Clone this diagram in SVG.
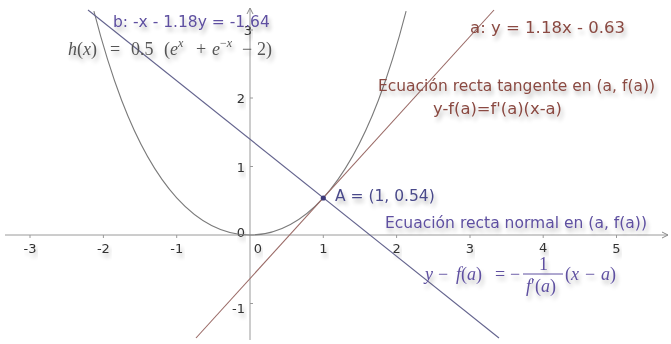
<svg xmlns="http://www.w3.org/2000/svg" width="671" height="344" viewBox="0 0 671 344">
<defs>
<filter id="sh" x="-10%" y="-30%" width="120%" height="180%">
<feGaussianBlur in="SourceAlpha" stdDeviation="2.2"/>
<feOffset dx="2" dy="4" result="b"/>
<feComponentTransfer><feFuncA type="linear" slope="0.28"/></feComponentTransfer>
<feMerge><feMergeNode/><feMergeNode in="SourceGraphic"/></feMerge>
</filter>
<marker id="arr" markerWidth="8" markerHeight="8" refX="7" refY="4" orient="auto" markerUnits="userSpaceOnUse">
<path d="M1,1 L7,4 L1,7" fill="none" stroke="#8a8a8a" stroke-width="1"/>
</marker>
</defs>
<style>
.ax{stroke:#9a9a9a;stroke-width:1;fill:none}
.tk{stroke:#9a9a9a;stroke-width:1}
.num{font-family:"DejaVu Sans",sans-serif;font-size:13px;fill:#333;filter:url(#sh)}
.lbl{font-family:"DejaVu Sans",sans-serif;font-size:15.5px;filter:url(#sh)}
.pur{fill:#5e50a0}
.brn{fill:#8a4a42}
.math{font-family:"Liberation Serif","DejaVu Serif",serif;font-size:18px;filter:url(#sh)}
.it{font-style:italic}
</style>
<rect width="671" height="344" fill="#ffffff"/>
<g id="axes">
<line class="ax" x1="5" y1="235" x2="668" y2="235" marker-end="url(#arr)"/>
<line class="ax" x1="250" y1="340" x2="250" y2="8" marker-end="url(#arr)"/>
<g>
<line class="tk" x1="30" y1="235" x2="30" y2="238"/>
<line class="tk" x1="103.4" y1="235" x2="103.4" y2="238"/>
<line class="tk" x1="176.7" y1="235" x2="176.7" y2="238"/>
<line class="tk" x1="323.3" y1="235" x2="323.3" y2="238"/>
<line class="tk" x1="396.6" y1="235" x2="396.6" y2="238"/>
<line class="tk" x1="470" y1="235" x2="470" y2="238"/>
<line class="tk" x1="543.2" y1="235" x2="543.2" y2="238"/>
<line class="tk" x1="616.5" y1="235" x2="616.5" y2="238"/>
<line class="tk" x1="250" y1="30" x2="253" y2="30"/>
<line class="tk" x1="250" y1="98" x2="253" y2="98"/>
<line class="tk" x1="250" y1="166.5" x2="253" y2="166.5"/>
<line class="tk" x1="250" y1="303.5" x2="253" y2="303.5"/>
</g>
<g text-anchor="middle">
<text class="num" x="30" y="253">-3</text>
<text class="num" x="103.4" y="253">-2</text>
<text class="num" x="176.7" y="253">-1</text>
<text class="num" x="258" y="253">0</text>
<text class="num" x="323.3" y="253">1</text>
<text class="num" x="396.6" y="253">2</text>
<text class="num" x="470" y="253">3</text>
<text class="num" x="543.2" y="252">4</text>
<text class="num" x="616.5" y="253">5</text>
</g>
<g text-anchor="end">
<text class="num" x="252" y="35">3</text>
<text class="num" x="245" y="103">2</text>
<text class="num" x="245" y="172">1</text>
<text class="num" x="245" y="237">0</text>
<text class="num" x="245" y="313">-1</text>
</g>
</g>
<g id="curve-h">
<path d="M93.9,11.2 C103.18,47.19 112.41,76.29 121.7,100.5 C140.03,148.29 158.37,177.67 176.7,197.8 C201.13,224.6 225.57,235 250,235 C274.43,235 298.87,224.6 323.3,197.8 C341.63,177.67 359.97,148.29 378.3,100.5 C387.59,76.29 396.82,47.19 406.1,11.2" fill="none" stroke="#7a7a7a" stroke-width="1.1"/>
</g>
<g id="connectors">
<line id="line-a" x1="196" y1="338" x2="494" y2="10" stroke="#9a6a66" stroke-width="1.1"/>
<line id="line-b" x1="88" y1="10" x2="499" y2="338" stroke="#64648e" stroke-width="1.1"/>
</g>
<g id="point-A">
<circle cx="323.3" cy="198" r="2.6" fill="#3e3a7a"/>
<text class="lbl" x="335" y="201" fill="#4a4a8a">A = (1, 0.54)</text>
</g>
<g id="label-b">
<text class="lbl pur" x="113" y="27">b: -x - 1.18y = -1.64</text>
</g>
<g id="label-h">
<text class="math" y="55" fill="#555"><tspan class="it" x="68">h</tspan>(<tspan class="it">x</tspan>)<tspan x="110">=</tspan><tspan x="131">0.5</tspan><tspan x="164">(</tspan><tspan class="it">e</tspan><tspan class="it" font-size="12" dy="-8">x</tspan><tspan x="196" dy="8">+</tspan><tspan class="it" x="212">e</tspan><tspan font-size="12" dy="-8">−<tspan class="it">x</tspan></tspan><tspan x="242" dy="8">−</tspan><tspan x="257">2)</tspan></text>
</g>
<g id="label-a">
<text class="lbl brn" x="470" y="33" textLength="155" lengthAdjust="spacingAndGlyphs">a: y = 1.18x - 0.63</text>
</g>
<g id="label-tangent">
<text class="lbl brn" x="378" y="91" textLength="277" lengthAdjust="spacingAndGlyphs">Ecuación recta tangente en (a, f(a))</text>
<text class="lbl brn" x="433" y="114" textLength="129" lengthAdjust="spacingAndGlyphs">y-f(a)=f'(a)(x-a)</text>
</g>
<g id="label-normal">
<text class="lbl pur" x="385" y="228" textLength="262" lengthAdjust="spacingAndGlyphs">Ecuación recta normal en (a, f(a))</text>
<text class="math" y="280" fill="#5e50a0"><tspan class="it" x="425">y</tspan><tspan x="438">−</tspan><tspan class="it" x="456">f</tspan>(<tspan class="it">a</tspan>)<tspan x="495">=</tspan><tspan x="510">−</tspan><tspan x="539" y="270">1</tspan><tspan class="it" x="526" y="292">f</tspan>′(<tspan class="it">a</tspan>)<tspan x="565" y="280">(</tspan><tspan class="it">x</tspan><tspan x="585">−</tspan><tspan class="it" x="601">a</tspan>)</text>
<line x1="523" y1="274" x2="563" y2="274" stroke="#5e50a0" stroke-width="1"/>
</g>
</svg>
